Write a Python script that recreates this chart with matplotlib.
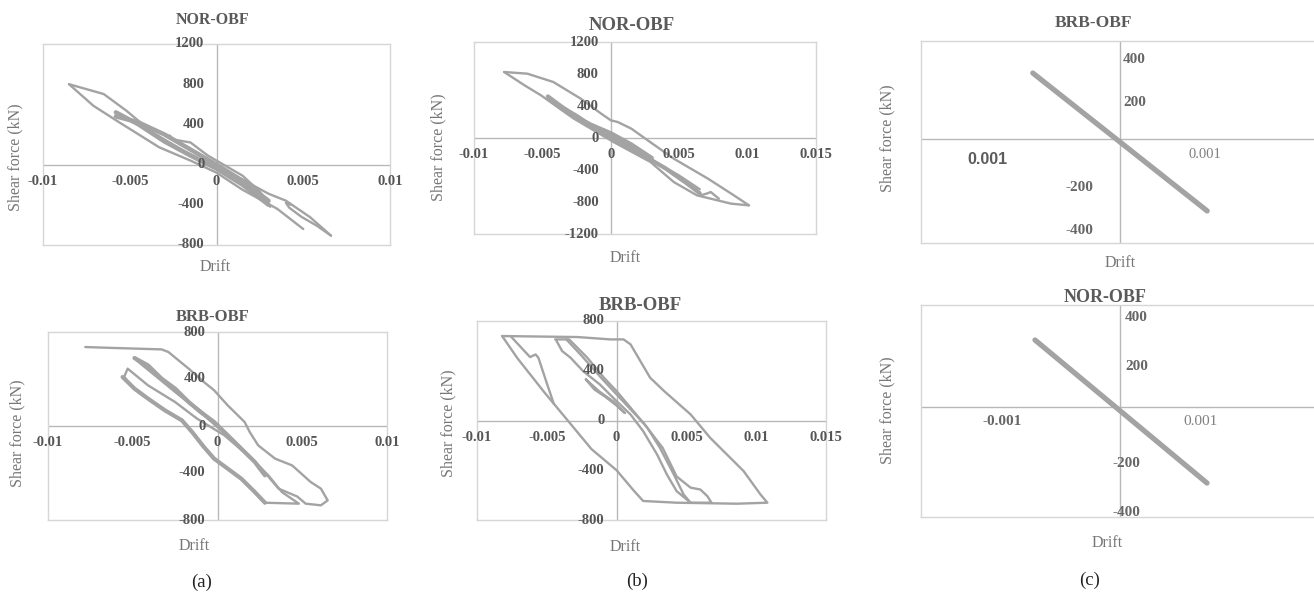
import matplotlib
matplotlib.use("Agg")
import matplotlib.pyplot as plt

# ---- data (drift, shear force kN) ----
# (a) NOR-OBF
a1_up_d = [-0.0085, -0.0065, -0.0052, -0.0037, -0.0019, 0.0, 0.0015, 0.003, 0.004, 0.0054, 0.0066]
a1_up_f = [800, 702, 537, 321, 139, -27, -150, -290, -359, -524, -707]
a1_lo_d = [-0.0085, -0.0071, -0.0056, -0.0033, -0.0015, 0.0, 0.0015, 0.0035, 0.005]
a1_lo_f = [800, 586, 420, 172, 40, -80, -250, -440, -641]
a1_spike_d = [0.0066, 0.0058, 0.0049, 0.0042, 0.0040, 0.0043]
a1_spike_f = [-707, -610, -520, -430, -380, -400]
a1_b1_d = [-0.0058, -0.0045, -0.003, -0.0015, 0.0, 0.0015, 0.003]
a1_b1_f = [520, 400, 230, 90, -40, -200, -400]
a1_b2_d = [0.003, 0.0015, 0.0, -0.0015, -0.003, -0.0045, -0.0058]
a1_b2_f = [-360, -160, 0, 150, 300, 420, 480]
a1_b3_d = [-0.0027, -0.0025, -0.0015, -0.0005, 0.0005, 0.0015, 0.0025, 0.0031]
a1_b3_f = [290, 250, 220, 90, -10, -110, -270, -420]

# (a) BRB-OBF
a2_out_d = [-0.0078, -0.0061, -0.0033, -0.0029, -0.0017, -0.0008, -0.0002, 0.0006, 0.0016, 0.0019,
            0.0024, 0.0034, 0.0044, 0.0055, 0.0061, 0.0065, 0.0061, 0.0052, 0.0047, 0.0036, 0.0026,
            0.001, -0.0008, -0.0025, -0.0049]
a2_out_f = [672, 664, 652, 630, 488, 374, 304, 176, 34, -51,
            -165, -278, -335, -477, -533, -633, -675, -661, -600, -533, -363,
            -136, 91, 290, 573]
a2_mid_d = [-0.0049, -0.0041, -0.0033, -0.0025, -0.0017, -0.001, -0.0002, 0.0006, 0.0014, 0.0022, 0.0028]
a2_mid_f = [579, 516, 403, 318, 204, 119, 34, -79, -193, -306, -420]
a2_mid2_d = [-0.0045, -0.0036, -0.0028, -0.002, -0.001, 0.0, 0.001, 0.002, 0.0027]
a2_mid2_f = [540, 430, 330, 240, 130, 10, -130, -270, -380]
a2_low_d = [-0.0056, -0.0049, -0.0041, -0.0031, -0.0021, -0.0015, -0.0008, -0.0002, 0.0006, 0.0014,
            0.0022, 0.0028, 0.0048, 0.0038, 0.003, 0.0018, 0.0004, -0.0012, -0.0025, -0.0041,
            -0.0053, -0.0055, -0.0053]
a2_low_f = [417, 318, 233, 133, 48, -51, -179, -278, -363, -448,
            -562, -653, -661, -562, -420, -250, -79, 62, 204, 346,
            488, 420, 380]

# (b) NOR-OBF
b1_up_d = [-0.0078, -0.0061, -0.0042, -0.0022, -0.0007, 0.0, 0.0005, 0.0015, 0.0027, 0.0046, 0.0071, 0.009, 0.0101]
b1_up_f = [825, 804, 700, 492, 304, 221, 200, 117, -29, -258, -508, -717, -842]
b1_lo_d = [0.0101, 0.0088, 0.0071, 0.0063, 0.0046, 0.0029, 0.0002, -0.0027, -0.0051, -0.0063, -0.0078]
b1_lo_f = [-842, -821, -750, -717, -550, -300, -50, 242, 533, 658, 825]
b1_hook_d = [0.0066, 0.0071, 0.0073, 0.0079]
b1_hook_f = [-715, -690, -675, -758]
b1_b1_d = [-0.0046, -0.0035, -0.002, -0.0005, 0.001, 0.0025, 0.004, 0.0055, 0.0065]
b1_b1_f = [520, 380, 200, 50, -90, -230, -380, -560, -690]
b1_b2_d = [0.0065, 0.005, 0.0035, 0.002, 0.0005, -0.001, -0.0025, -0.004, -0.0046]
b1_b2_f = [-640, -470, -320, -170, -20, 120, 290, 440, 500]
b1_b3_d = [-0.004, -0.003, -0.0015, 0.0, 0.0015, 0.003]
b1_b3_f = [420, 300, 170, 60, -80, -250]

# (b) BRB-OBF
b2_out_d = [-0.0082, -0.0028, -0.00045, 0.0005, 0.001, 0.0024, 0.0034, 0.0053, 0.0067, 0.0091, 0.0103,
            0.0108, 0.0086, 0.0043, 0.0019, 0.0012, 0.0, -0.0018, -0.0035, -0.0052, -0.0071, -0.0082]
b2_out_f = [679, 671, 652, 652, 612, 344, 237, 49, -139, -407, -594,
            -661, -669, -661, -647, -560, -400, -230, 0, 230, 500, 679]
b2_left_d = [-0.0076, -0.0062, -0.0058, -0.0056, -0.005, -0.0045]
b2_left_f = [679, 510, 531, 504, 300, 135]
b2_in1_d = [-0.0044, -0.0034, -0.0021, -0.0009, 0.0, 0.0012, 0.0022, 0.0031, 0.0041, 0.0048, 0.0053,
            0.0043, 0.0036, 0.0029, 0.0019, 0.001, 0.0, -0.0012, -0.0024, -0.0033, -0.0039, -0.0043]
b2_in1_f = [652, 652, 505, 343, 236, 76, -58, -219, -434, -595, -661,
            -568, -434, -273, -85, 48, 155, 290, 397, 505, 558, 639]
b2_in2_d = [-0.0036, -0.0025, -0.001, 0.0005, 0.002, 0.0033, 0.0043, 0.0053, 0.006, 0.0065, 0.0068, 0.0053]
b2_in2_f = [652, 520, 330, 150, -30, -220, -450, -540, -555, -608, -661, -661]
b2_lens_d = [-0.0022, -0.0016, -0.0008, 0.0, 0.0006, -0.0002, -0.0012, -0.0022]
b2_lens_f = [330, 250, 190, 120, 60, 150, 230, 330]

# (c) straight responses
c1_d = [-0.0008, 0.0008]
c1_f = [308, -336]
c2_d = [-0.00085, 0.00087]
c2_f = [274, -311]

# tick values
a1_yt = [-800, -400, 0, 400, 800, 1200]
b1_yt = [-1200, -800, -400, 0, 400, 800, 1200]
ab2_yt = [-800, -400, 0, 400, 800]
a_xt = [-0.01, -0.005, 0, 0.005, 0.01]
b_xt = [-0.01, -0.005, 0, 0.005, 0.01, 0.015]
c_yt = [400, 200, -200, -400]

W, H = 1314, 594
SERIF = "Liberation Serif"
CURVE = "#a3a3a3"
TICK = "#555555"
LABEL = "#777777"

fig = plt.figure(figsize=(W / 100, H / 100), dpi=100)
fig.patch.set_facecolor("white")


def box(x0, y0, x1, y1):
    return fig.add_axes([x0 / W, 1 - y1 / H, (x1 - x0) / W, (y1 - y0) / H])


def ftext(x, y, s, **kw):
    fig.text(x / W, 1 - y / H, s, ha="center", va="center", family=SERIF, **kw)


def fmt(v):
    if v == 0:
        return "0"
    return ("%g" % v)


def frame(ax, xlim, ylim):
    ax.set_xlim(xlim)
    ax.set_ylim(ylim)
    ax.set_xticks([])
    ax.set_yticks([])
    for sp in ax.spines.values():
        sp.set_color("#d6d6d6")
        sp.set_linewidth(1.0)
    ax.axhline(0, color="#b8b8b8", lw=1.0, zorder=1)
    ax.axvline(0, color="#b8b8b8", lw=1.0, zorder=1)


def ticks_ab(ax, xt, yt):
    for v in yt:
        ax.annotate(fmt(v), xy=(0, v), xytext=(-12, 0), textcoords="offset pixels",
                    ha="right", va="center", fontsize=10.5, fontweight="bold",
                    color=TICK, family=SERIF, annotation_clip=False)
    for v in xt:
        ax.annotate(fmt(v), xy=(v, 0), xytext=(0, -17), textcoords="offset pixels",
                    ha="center", va="center", fontsize=10.5, fontweight="bold",
                    color=TICK, family=SERIF, annotation_clip=False)


def curves(ax, pairs, lw=1.7):
    for d, f in pairs:
        ax.plot(d, f, color=CURVE, lw=lw, solid_joinstyle="round", solid_capstyle="round", zorder=3)


# ---- (a) top ----
ax = box(43, 44, 390, 245)
frame(ax, (-0.01, 0.01), (-800, 1200))
curves(ax, [(a1_up_d, a1_up_f), (a1_lo_d, a1_lo_f), (a1_spike_d, a1_spike_f),
            (a1_b1_d, a1_b1_f), (a1_b2_d, a1_b2_f), (a1_b3_d, a1_b3_f)])
curves(ax, [(a1_b1_d, a1_b1_f), (a1_b2_d, a1_b2_f)], lw=3.2)
ticks_ab(ax, a_xt, a1_yt)
ftext(213, 20, "NOR-OBF", fontsize=11.5, fontweight="bold", color="#5a5a5a")
ftext(215, 267, "Drift", fontsize=11.5, color=LABEL)
ftext(15, 157, "Shear force (kN)", fontsize=11.5, color=LABEL, rotation=90)

# ---- (b) top ----
ax = box(474, 42, 816, 234)
frame(ax, (-0.01, 0.015), (-1200, 1200))
curves(ax, [(b1_up_d, b1_up_f), (b1_lo_d, b1_lo_f), (b1_hook_d, b1_hook_f),
            (b1_b1_d, b1_b1_f), (b1_b2_d, b1_b2_f), (b1_b3_d, b1_b3_f)])
curves(ax, [(b1_b1_d, b1_b1_f), (b1_b3_d, b1_b3_f)], lw=3.0)
ticks_ab(ax, b_xt, b1_yt)
ftext(632, 25, "NOR-OBF", fontsize=13.5, fontweight="bold", color="#5a5a5a")
ftext(625, 258, "Drift", fontsize=11.5, color=LABEL)
ftext(438, 147, "Shear force (kN)", fontsize=11.5, color=LABEL, rotation=90)

# ---- (a) bottom ----
ax = box(48, 332, 387, 520)
frame(ax, (-0.01, 0.01), (-800, 800))
curves(ax, [(a2_out_d, a2_out_f), (a2_mid_d, a2_mid_f), (a2_mid2_d, a2_mid2_f), (a2_low_d, a2_low_f)])
curves(ax, [(a2_mid_d, a2_mid_f), (a2_low_d[:12], a2_low_f[:12])], lw=3.0)
ticks_ab(ax, a_xt, ab2_yt)
ftext(213, 317, "BRB-OBF", fontsize=12, fontweight="bold", color="#5a5a5a")
ftext(194, 546, "Drift", fontsize=11.5, color=LABEL)
ftext(17, 433, "Shear force (kN)", fontsize=11.5, color=LABEL, rotation=90)

# ---- (b) bottom ----
ax = box(477, 321, 826, 520)
frame(ax, (-0.01, 0.015), (-800, 800))
curves(ax, [(b2_out_d, b2_out_f), (b2_left_d, b2_left_f), (b2_in1_d, b2_in1_f),
            (b2_in2_d, b2_in2_f), (b2_lens_d, b2_lens_f)])
ticks_ab(ax, b_xt, ab2_yt)
ftext(640, 305, "BRB-OBF", fontsize=13.5, fontweight="bold", color="#5a5a5a")
ftext(625, 547, "Drift", fontsize=11.5, color=LABEL)
ftext(448, 423, "Shear force (kN)", fontsize=11.5, color=LABEL, rotation=90)

# ---- (c) top: BRB-OBF ----
ax = box(921, 41, 1340, 243)
frame(ax, (-(1120 - 921) / 109000, (1340 - 1120) / 109000), (-(243 - 139) * 4.67, (139 - 41) * 4.67))
ax.spines["right"].set_visible(False)
curves(ax, [(c1_d, c1_f)], lw=3.8)
for v in c_yt:
    if v > 0:
        ax.annotate(str(v), xy=(0, v), xytext=(3, -6), textcoords="offset pixels", ha="left", va="center",
                    fontsize=11, fontweight="bold", color="#666666", family=SERIF)
    else:
        ax.annotate(str(v), xy=(0, v), xytext=(-27, -6), textcoords="offset pixels", ha="right", va="center",
                    fontsize=11, fontweight="bold", color="#666666", family=SERIF)
ax.annotate("0.001", xy=(-0.001, 0), xytext=(-24, -20), textcoords="offset pixels", ha="center", va="center",
            fontsize=11.5, fontweight="bold", color="#5c5c5c", family="Liberation Sans")
ax.annotate("0.001", xy=(0.001, 0), xytext=(-24, -16), textcoords="offset pixels", ha="center", va="center",
            fontsize=10.5, color="#808080", family=SERIF)
ftext(1093, 23, "BRB-OBF", fontsize=12.5, fontweight="bold", color="#5a5a5a")
ftext(1120, 263, "Drift", fontsize=11.5, color=LABEL)
ftext(887, 138, "Shear force (kN)", fontsize=11.5, color=LABEL, rotation=90)

# ---- (c) bottom: NOR-OBF ----
ax = box(921, 305, 1340, 517)
frame(ax, (-(1120 - 921) / 100000, (1340 - 1120) / 100000), (-(517 - 407) * 4.09, (407 - 305) * 4.09))
ax.spines["right"].set_visible(False)
curves(ax, [(c2_d, c2_f)], lw=3.8)
for v in c_yt:
    if v > 0:
        ax.annotate(str(v), xy=(0, v), xytext=(5, -8), textcoords="offset pixels", ha="left", va="center",
                    fontsize=11, fontweight="bold", color="#666666", family=SERIF)
    else:
        ax.annotate(str(v), xy=(0, v), xytext=(6, -8), textcoords="offset pixels", ha="center", va="center",
                    fontsize=11, fontweight="bold", color="#666666", family=SERIF)
ax.annotate("-0.001", xy=(-0.001, 0), xytext=(-18, -15), textcoords="offset pixels", ha="center", va="center",
            fontsize=11, fontweight="bold", color="#666666", family=SERIF)
ax.annotate("0.001", xy=(0.001, 0), xytext=(-19, -15), textcoords="offset pixels", ha="center", va="center",
            fontsize=11, color="#808080", family=SERIF)
ftext(1105, 297, "NOR-OBF", fontsize=13, fontweight="bold", color="#5a5a5a")
ftext(1107, 543, "Drift", fontsize=11.5, color=LABEL)
ftext(887, 410, "Shear force (kN)", fontsize=11.5, color=LABEL, rotation=90)

# panel captions
ftext(202, 582, "(a)", fontsize=13.5, color="#222222")
ftext(637, 581, "(b)", fontsize=13.5, color="#222222")
ftext(1090, 580, "(c)", fontsize=13.5, color="#222222")

fig.savefig("out.png", dpi=100, facecolor="white")
